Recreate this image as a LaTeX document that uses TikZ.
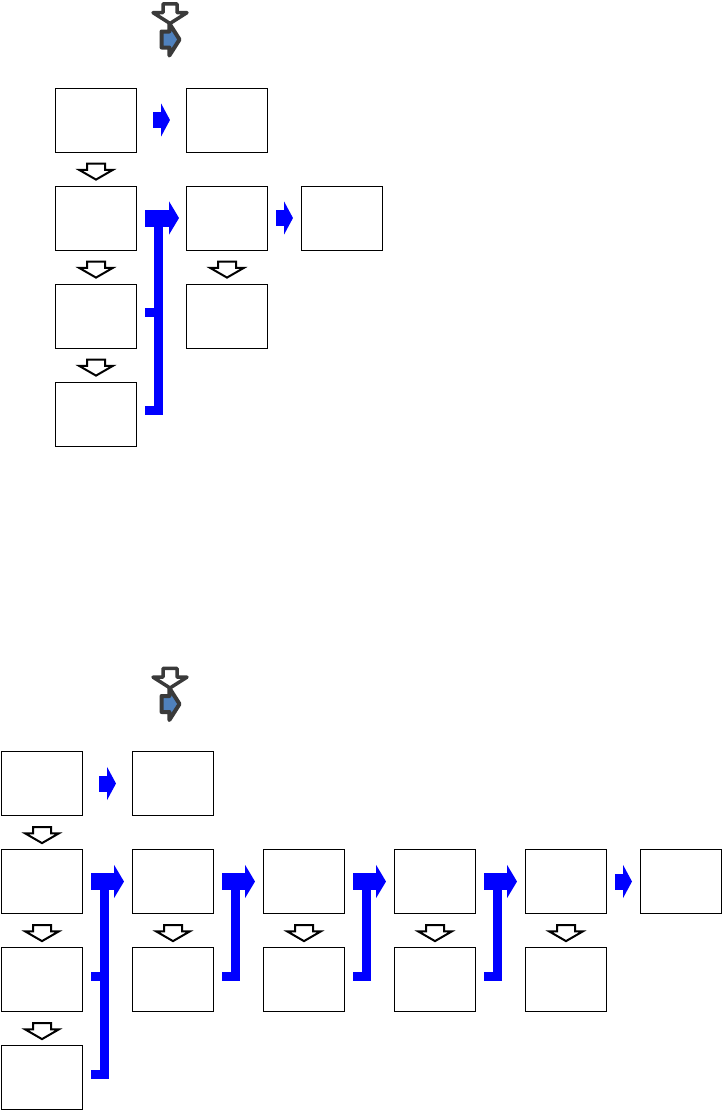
\documentclass[tikz,border=0pt]{standalone}
\usepackage{xcolor}
\usepackage{tikz}
\usetikzlibrary{arrows.meta,positioning,calc,shapes.arrows}
\definecolor{FlowBlue}{HTML}{0000FF}
\definecolor{KeyDark}{HTML}{3A3A3A}
\definecolor{KeyBlue}{HTML}{4F81BD}

\begin{document}
\begin{tikzpicture}[x=1pt, y=1pt, node distance=33pt and 49pt,
  cell/.style={draw, line width=1pt, minimum width=81pt, minimum height=64pt, inner sep=0pt},
  droparrow/.style={single arrow, rotate=-90, draw, fill=white, line width=2pt,
    inner xsep=0pt, inner ysep=8pt, single arrow head extend=8pt,
    single arrow tip angle=120, minimum height=16pt},
  keydown/.style={single arrow, rotate=-90, draw=KeyDark, fill=white, line width=3.5pt,
    line join=round, inner xsep=0pt, inner ysep=5.25pt, single arrow head extend=10pt,
    single arrow tip angle=115, minimum height=19.5pt},
  keyright/.style={single arrow, draw=KeyDark, fill=KeyBlue, line width=4pt,
    line join=round, inner xsep=0pt, inner ysep=6pt, single arrow head extend=8pt,
    single arrow tip angle=115, minimum height=18pt},
  hop/.style={FlowBlue, line width=16pt, -{Triangle[length=9pt, width=33pt]}},
  feed/.style={FlowBlue, line width=17pt, -{Triangle[length=10pt, width=33pt]}},
  rail/.style={FlowBlue, line width=9pt, line join=miter}]
  \useasboundingbox (0,0) rectangle (722,-1112);

  % upper sketch
  \node[keydown] (tkeyA) at (170,-11.5) {};
  \node[keyright] (tkeyB) at (168,-39.5) {};
  \node[cell] (tA1) at (96,-120) {};
  \node[cell, right=of tA1] (tB1) {};
  \node[cell, below=of tA1] (tA2) {};
  \node[cell, right=of tA2] (tB2) {};
  \node[cell, right=33pt of tB2] (tC2) {};
  \node[cell, below=of tA2] (tA3) {};
  \node[cell, right=of tA3] (tB3) {};
  \node[cell, below=of tA3] (tA4) {};
  \node[droparrow] (tdA1) at ($(tA1.south)!.5!(tA2.north)$) {};
  \node[droparrow] (tdA2) at ($(tA2.south)!.5!(tA3.north)$) {};
  \node[droparrow] (tdA3) at ($(tA3.south)!.5!(tA4.north)$) {};
  \node[droparrow] (tdB2) at ($(tB2.south)!.5!(tB3.north)$) {};
  \draw[hop] ([xshift=16pt]tA1.east) -- ([xshift=-16pt]tB1.west);
  \draw[hop] ([xshift=8pt]tB2.east) -- ([xshift=-8pt]tC2.west);
  \draw[rail] ([xshift=8pt,yshift=3.5pt]tA4.east) -| ([xshift=21pt]tA2.east);
  \draw[rail] ([xshift=8pt,yshift=3.5pt]tA3.east) -- ([xshift=21pt,yshift=3.5pt]tA3.east);
  \draw[feed] ([xshift=8pt]tA2.east) -- ([xshift=-7pt]tB2.west);

  % lower sketch
  \node[keydown] (bkeyA) at (170,-676) {};
  \node[keyright] (bkeyB) at (168,-704) {};
  \node[cell] (bA1) at (42,-783.5) {};
  \node[cell, right=of bA1] (bB1) {};
  \node[cell, below=of bA1] (bA2) {};
  \node[cell, right=of bA2] (bB2) {};
  \node[cell, right=of bB2] (bC2) {};
  \node[cell, right=of bC2] (bD2) {};
  \node[cell, right=of bD2] (bE2) {};
  \node[cell, right=33pt of bE2] (bF2) {};
  \node[cell, below=of bA2] (bA3) {};
  \node[cell, right=of bA3] (bB3) {};
  \node[cell, right=of bB3] (bC3) {};
  \node[cell, right=of bC3] (bD3) {};
  \node[cell, right=of bD3] (bE3) {};
  \node[cell, below=of bA3] (bA4) {};
  \node[droparrow] (bdA1) at ($(bA1.south)!.5!(bA2.north)$) {};
  \node[droparrow] (bdA2) at ($(bA2.south)!.5!(bA3.north)$) {};
  \node[droparrow] (bdA3) at ($(bA3.south)!.5!(bA4.north)$) {};
  \node[droparrow] (bdB2) at ($(bB2.south)!.5!(bB3.north)$) {};
  \node[droparrow] (bdC2) at ($(bC2.south)!.5!(bC3.north)$) {};
  \node[droparrow] (bdD2) at ($(bD2.south)!.5!(bD3.north)$) {};
  \node[droparrow] (bdE2) at ($(bE2.south)!.5!(bE3.north)$) {};
  \draw[hop] ([xshift=16pt]bA1.east) -- ([xshift=-16pt]bB1.west);
  \draw[hop] ([xshift=8pt]bE2.east) -- ([xshift=-8pt]bF2.west);
  \draw[rail] ([xshift=8pt,yshift=3pt]bA4.east) -| ([xshift=21pt]bA2.east);
  \draw[rail] ([xshift=8pt,yshift=3pt]bA3.east) -- ([xshift=21pt,yshift=3pt]bA3.east);
  \draw[rail] ([xshift=8pt,yshift=3pt]bB3.east) -| ([xshift=21pt]bB2.east);
  \draw[rail] ([xshift=8pt,yshift=3pt]bC3.east) -| ([xshift=21pt]bC2.east);
  \draw[rail] ([xshift=8pt,yshift=3pt]bD3.east) -| ([xshift=21pt]bD2.east);
  \draw[feed] ([xshift=8pt]bA2.east) -- ([xshift=-8pt]bB2.west);
  \draw[feed] ([xshift=8pt]bB2.east) -- ([xshift=-8pt]bC2.west);
  \draw[feed] ([xshift=8pt]bC2.east) -- ([xshift=-8pt]bD2.west);
  \draw[feed] ([xshift=8pt]bD2.east) -- ([xshift=-8pt]bE2.west);
\end{tikzpicture}
\end{document}
